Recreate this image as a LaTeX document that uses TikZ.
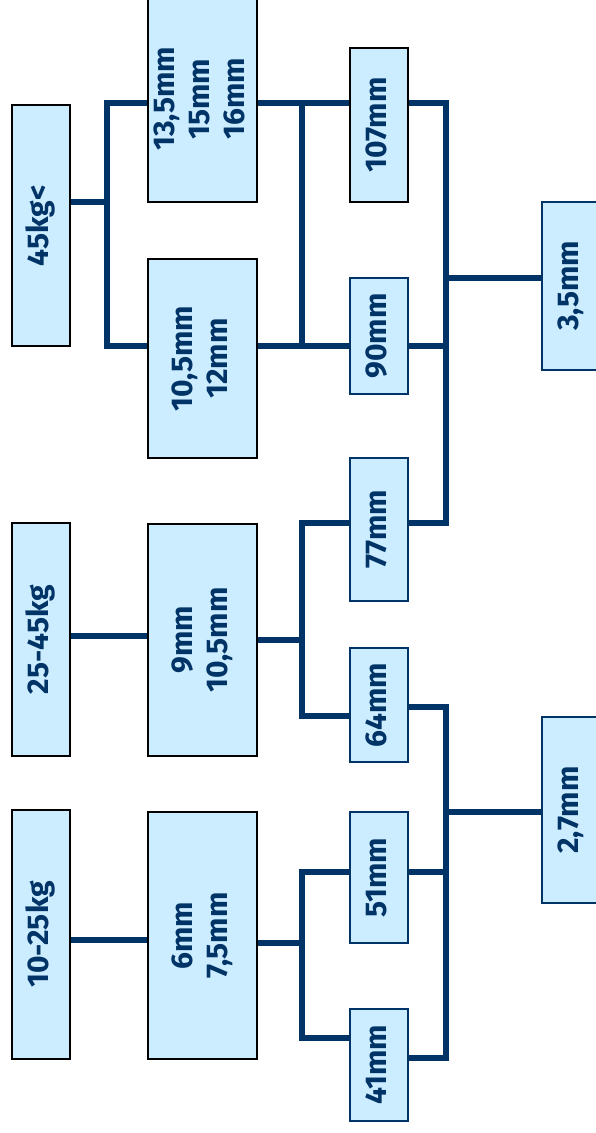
\documentclass[tikz,border=0pt]{standalone}
\usepackage{fontspec}
\usepackage{graphicx}
\usetikzlibrary{positioning}
\newfontfamily\labelfont{Fira Sans}
\definecolor{navy}{RGB}{0,51,102}
\definecolor{boxfill}{RGB}{204,236,255}
\newcommand{\vtext}[1]{\rotatebox{90}{\begin{tabular}{@{}c@{}}#1\end{tabular}}}
\tikzset{
  BK/.style={draw=black,fill=boxfill,line width=1.2pt,rectangle,inner sep=0pt,font=\labelfont\bfseries\fontsize{30}{35}\selectfont\color{navy}},
  NV/.style={BK,draw=navy},
  LN/.style={line width=5.5pt,navy},
}
\begin{document}
\begin{tikzpicture}[x=1pt,y=-1pt]
\useasboundingbox (0,0) rectangle (596,1133);
\clip (0,0) rectangle (596,1133);

% weight boxes
\node[BK,minimum width=58,minimum height=241](w45) at (41,225.5){\vtext{45kg<}};
\node[BK,minimum width=58,minimum height=233](w25) at (41,639.5){\vtext{25-45kg}};
\node[BK,minimum width=58,minimum height=249](w10) at (41,934.5){\vtext{10-25kg}};

% shaft boxes
\node[BK,minimum width=109,minimum height=206](n135) at (202.5,99){\vtext{13,5mm\\15mm\\16mm}};
\node[BK,minimum width=109,minimum height=199](n105) at (202.5,358.5){\vtext{10,5mm\\12mm}};
\node[BK,minimum width=109,minimum height=232](n9)   at (202.5,640){\vtext{9mm\\10,5mm}};
\node[BK,minimum width=109,minimum height=247](n6)   at (202.5,935.5){\vtext{6mm\\7,5mm}};

% length boxes
\node[BK,minimum width=58,minimum height=154](n107) at (379,125){\vtext{107mm}};
\node[NV,minimum width=58,minimum height=116](n90)  at (379,336){\vtext{90mm}};
\node[NV,minimum width=58,minimum height=143](n77)  at (379,529.5){\vtext{77mm}};
\node[NV,minimum width=58,minimum height=114](n64)  at (379,705){\vtext{64mm}};
\node[NV,minimum width=58,minimum height=131](n51)  at (379,877.5){\vtext{51mm}};
\node[NV,minimum width=58,minimum height=112](n41)  at (379,1065){\vtext{41mm}};

% hex key boxes
\node[NV,minimum width=58,minimum height=168](n35) at (571,286){\vtext{3,5mm}};
\node[NV,minimum width=58,minimum height=186](n27) at (571,810){\vtext{2,7mm}};

% junctions
\coordinate (a0) at (107,202);
\coordinate (a1) at (107,103);
\coordinate (a2) at (107,346);
\coordinate (b1) at (302,103);
\coordinate (b2) at (302,346);
\coordinate (c0) at (446,278);
\coordinate (c1) at (446,103);
\coordinate (c2) at (446,523);
\coordinate (d0) at (100,636);
\coordinate (e0) at (302,640);
\coordinate (e1) at (302,523);
\coordinate (e2) at (302,716);
\coordinate (f0) at (446,812);
\coordinate (f1) at (446,707);
\coordinate (f2) at (446,1058);
\coordinate (f3) at (446,872);
\coordinate (g0) at (100,940);
\coordinate (h0) at (302,943);
\coordinate (h1) at (302,872);
\coordinate (h2) at (302,1038);

% 45kg< tree
\draw[LN](w45.east |- a0)--(a0);
\draw[LN](n135.west |- a1)--(a1)--(a2)--(n105.west |- a2);
\draw[LN](n135.east |- b1)--(n107.west |- b1);
\draw[LN](n105.east |- b2)--(n90.west |- b2);
\draw[LN](b1)--(b2);
\draw[LN](n107.east |- c1)--(c1)--(c2)--(n77.east |- c2);
\draw[LN](n90.east |- b2)--(c1 |- b2);
\draw[LN](c0)--(n35.west |- c0);

% 25-45kg tree
\draw[LN](w25.east |- d0)--(n9.west |- d0);
\draw[LN](n9.east |- e0)--(e0);
\draw[LN](n77.west |- e1)--(e1)--(e2)--(n64.west |- e2);
\draw[LN](n64.east |- f1)--(f1)--(f2)--(n41.east |- f2);
\draw[LN](n51.east |- f3)--(f3);
\draw[LN](f0)--(n27.west |- f0);

% 10-25kg tree
\draw[LN](w10.east |- g0)--(n6.west |- g0);
\draw[LN](n6.east |- h0)--(h0);
\draw[LN](n51.west |- h1)--(h1)--(h2)--(n41.west |- h2);

\end{tikzpicture}
\end{document}
